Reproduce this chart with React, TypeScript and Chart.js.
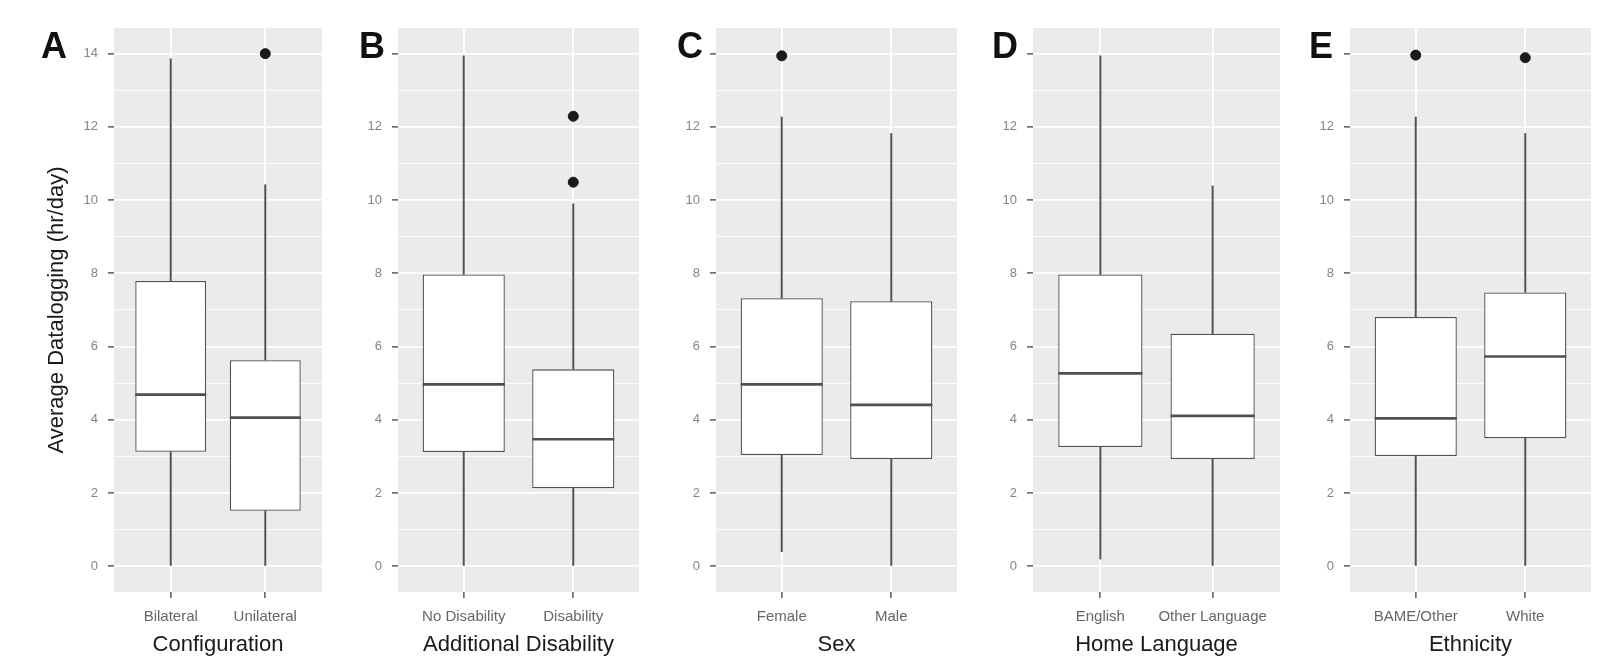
import React, { useEffect, useRef } from 'react';
import { Chart, registerables } from 'chart.js';

Chart.register(...registerables);

// ---------- data ----------
const panelLetters = ['A', 'B', 'C', 'D', 'E'];
const axisTitles = ['Configuration', 'Additional Disability', 'Sex', 'Home Language', 'Ethnicity'];
const yAxisTitle = 'Average Datalogging (hr/day)';
const yMajorTicks = [0, 2, 4, 6, 8, 10, 12, 14];
const yMinorTicks = [1, 3, 5, 7, 9, 11, 13];

const configurationLabels = ['Bilateral', 'Unilateral'];
const configurationLower = [0, 0];
const configurationQ1 = [3.13, 1.52];
const configurationMedian = [4.69, 4.06];
const configurationQ3 = [7.79, 5.63];
const configurationUpper = [13.86, 10.42];
const configurationOutliers = [[], [14.0]];

const disabilityLabels = ['No Disability', 'Disability'];
const disabilityLower = [0, 0];
const disabilityQ1 = [3.12, 2.13];
const disabilityMedian = [4.97, 3.47];
const disabilityQ3 = [7.97, 5.38];
const disabilityUpper = [13.94, 9.9];
const disabilityOutliers = [[], [12.29, 10.49]];

const sexLabels = ['Female', 'Male'];
const sexLower = [0.4, 0];
const sexQ1 = [3.04, 2.93];
const sexMedian = [4.97, 4.41];
const sexQ3 = [7.32, 7.24];
const sexUpper = [12.27, 11.82];
const sexOutliers = [[13.94], []];

const languageLabels = ['English', 'Other Language'];
const languageLower = [0.2, 0];
const languageQ1 = [3.26, 2.93];
const languageMedian = [5.27, 4.11];
const languageQ3 = [7.97, 6.35];
const languageUpper = [13.94, 10.39];
const languageOutliers = [[], []];

const ethnicityLabels = ['BAME/Other', 'White'];
const ethnicityLower = [0, 0];
const ethnicityQ1 = [3.01, 3.5];
const ethnicityMedian = [4.04, 5.73];
const ethnicityQ3 = [6.81, 7.48];
const ethnicityUpper = [12.27, 11.82];
const ethnicityOutliers = [[13.96], [13.89]];

const panelData = [
  { labels: configurationLabels, lower: configurationLower, q1: configurationQ1, median: configurationMedian, q3: configurationQ3, upper: configurationUpper, outliers: configurationOutliers },
  { labels: disabilityLabels, lower: disabilityLower, q1: disabilityQ1, median: disabilityMedian, q3: disabilityQ3, upper: disabilityUpper, outliers: disabilityOutliers },
  { labels: sexLabels, lower: sexLower, q1: sexQ1, median: sexMedian, q3: sexQ3, upper: sexUpper, outliers: sexOutliers },
  { labels: languageLabels, lower: languageLower, q1: languageQ1, median: languageMedian, q3: languageQ3, upper: languageUpper, outliers: languageOutliers },
  { labels: ethnicityLabels, lower: ethnicityLower, q1: ethnicityQ1, median: ethnicityMedian, q3: ethnicityQ3, upper: ethnicityUpper, outliers: ethnicityOutliers },
];

// ---------- layout ----------
const W = 1598;
const H = 663;
const PLOT_TOP = 28;
const PLOT_BOTTOM = 592;
const canvasLefts = [0, 330, 650, 966, 1284];
const plotLefts = [114, 398, 716, 1033, 1350];
const plotRights = [328, 645, 963, 1280, 1597];
const letterLefts = [41, 359, 677, 992, 1309];

const FONT = "'Liberation Sans', Arial, Helvetica, sans-serif";
const LINE = '#505050';
const PANEL_BG = '#EBEBEB';

const panelBgPlugin = {
  id: 'panelBg',
  beforeDraw(chart: any) {
    const { ctx, chartArea } = chart;
    ctx.save();
    ctx.fillStyle = PANEL_BG;
    ctx.fillRect(chartArea.left, chartArea.top, chartArea.right - chartArea.left, chartArea.bottom - chartArea.top);
    ctx.restore();
  },
};

const medianPlugin = {
  id: 'medians',
  afterDatasetsDraw(chart: any, _args: any, opts: any) {
    const values: number[] = opts.values || [];
    const meta = chart.getDatasetMeta(0);
    const yScale = chart.scales.y;
    const { ctx } = chart;
    ctx.save();
    ctx.strokeStyle = LINE;
    ctx.lineWidth = 2.6;
    meta.data.forEach((el: any, i: number) => {
      const props = el.getProps(['x', 'width'], true);
      const y = yScale.getPixelForValue(values[i]);
      ctx.beginPath();
      ctx.moveTo(props.x - props.width / 2, y);
      ctx.lineTo(props.x + props.width / 2, y);
      ctx.stroke();
    });
    ctx.restore();
  },
};

function Panel({ index }: { index: number }) {
  const ref = useRef<HTMLCanvasElement | null>(null);
  const left = canvasLefts[index];
  const width = plotRights[index] - left;
  const yWidth = plotLefts[index] - left;

  useEffect(() => {
    if (!ref.current) return;
    const d = panelData[index];
    const xs = d.labels.map((_, i) => i + 1);
    const allY = [...yMajorTicks, ...yMinorTicks].sort((a, b) => a - b);
    const outlierPoints: { x: number; y: number }[] = [];
    d.outliers.forEach((arr, i) => arr.forEach((v) => outlierPoints.push({ x: i + 1, y: v })));

    const chart = new Chart(ref.current, {
      type: 'bar',
      data: {
        datasets: [
          {
            type: 'bar',
            label: 'IQR',
            data: xs.map((x, i) => ({ x, y: [d.q1[i], d.q3[i]] })) as any,
            backgroundColor: '#ffffff',
            borderColor: LINE,
            borderWidth: 1.3,
            borderSkipped: false,
            grouped: false,
            barPercentage: 0.75,
            categoryPercentage: 1,
          } as any,
          {
            type: 'bar',
            label: 'Upper whisker',
            data: xs.map((x, i) => ({ x, y: [d.q3[i], d.upper[i]] })) as any,
            backgroundColor: LINE,
            borderWidth: 0,
            barThickness: 1.3,
            grouped: false,
          } as any,
          {
            type: 'bar',
            label: 'Lower whisker',
            data: xs.map((x, i) => ({ x, y: [d.lower[i], d.q1[i]] })) as any,
            backgroundColor: LINE,
            borderWidth: 0,
            barThickness: 1.3,
            grouped: false,
          } as any,
          {
            type: 'scatter',
            label: 'Outliers',
            data: outlierPoints,
            backgroundColor: '#1a1a1a',
            borderColor: '#1a1a1a',
            pointRadius: 5,
            showLine: false,
          } as any,
        ],
      },
      options: {
        animation: false,
        responsive: false,
        maintainAspectRatio: false,
        devicePixelRatio: 1,
        layout: { padding: { top: PLOT_TOP, left: 0, right: 0, bottom: 0 } },
        plugins: {
          legend: { display: false },
          tooltip: { enabled: false },
          medians: { values: d.median },
        } as any,
        scales: {
          x: {
            type: 'linear',
            min: 0.4,
            max: 2.6,
            offset: false,
            afterBuildTicks: (s: any) => {
              s.ticks = xs.map((v) => ({ value: v }));
            },
            afterFit: (s: any) => {
              s.height = H - PLOT_BOTTOM;
            },
            ticks: {
              autoSkip: false,
              maxRotation: 0,
              padding: 10,
              color: '#666666',
              font: { family: FONT, size: 15 },
              callback: (_v: any, i: number) => d.labels[i],
            },
            grid: {
              color: '#ffffff',
              lineWidth: 1.8,
              offset: false,
              drawTicks: true,
              tickLength: 6,
              tickColor: '#333333',
              tickWidth: 1.2,
            },
            border: { display: false },
            title: {
              display: true,
              text: axisTitles[index],
              color: '#1a1a1a',
              font: { family: FONT, size: 22 },
              padding: { top: 0, bottom: 5 },
            },
          } as any,
          y: {
            type: 'linear',
            min: -0.7,
            max: 14.7,
            afterBuildTicks: (s: any) => {
              s.ticks = allY.map((v) => ({ value: v }));
            },
            afterFit: (s: any) => {
              s.width = yWidth;
            },
            ticks: {
              autoSkip: false,
              padding: 10,
              color: '#858585',
              font: { family: FONT, size: 13 },
              callback: (v: any) => (yMajorTicks.includes(v) ? String(v) : ''),
            },
            grid: {
              color: '#ffffff',
              lineWidth: (c: any) => (c.tick && yMajorTicks.includes(c.tick.value) ? 1.8 : 0.9),
              drawTicks: true,
              tickLength: 6,
              tickColor: (c: any) => (c.tick && yMajorTicks.includes(c.tick.value) ? '#333333' : 'rgba(0,0,0,0)'),
              tickWidth: 1.2,
            },
            border: { display: false },
            title: {
              display: index === 0,
              text: yAxisTitle,
              color: '#1a1a1a',
              font: { family: FONT, size: 22 },
              padding: { top: 44, bottom: 0 },
            },
          } as any,
        },
      },
      plugins: [panelBgPlugin, medianPlugin],
    });
    return () => chart.destroy();
  }, [index]);

  return (
    <div style={{ position: 'absolute', left, top: 0, width, height: H }}>
      <canvas ref={ref} width={width} height={H} style={{ width, height: H, display: 'block' }} />
    </div>
  );
}

export default function App() {
  return (
    <div style={{ position: 'absolute', left: 0, top: 0, width: W, height: H, background: '#ffffff', overflow: 'hidden' }}>
      {panelLetters.map((_, i) => (
        <Panel key={i} index={i} />
      ))}
      {panelLetters.map((l, i) => (
        <div
          key={'l' + i}
          style={{
            position: 'absolute',
            left: letterLefts[i],
            top: 28,
            fontFamily: FONT,
            fontWeight: 'bold',
            fontSize: 36,
            lineHeight: '36px',
            color: '#111111',
            background: '#ffffff',
            paddingRight: 2,
            zIndex: 2,
          }}
        >
          {l}
        </div>
      ))}
    </div>
  );
}
